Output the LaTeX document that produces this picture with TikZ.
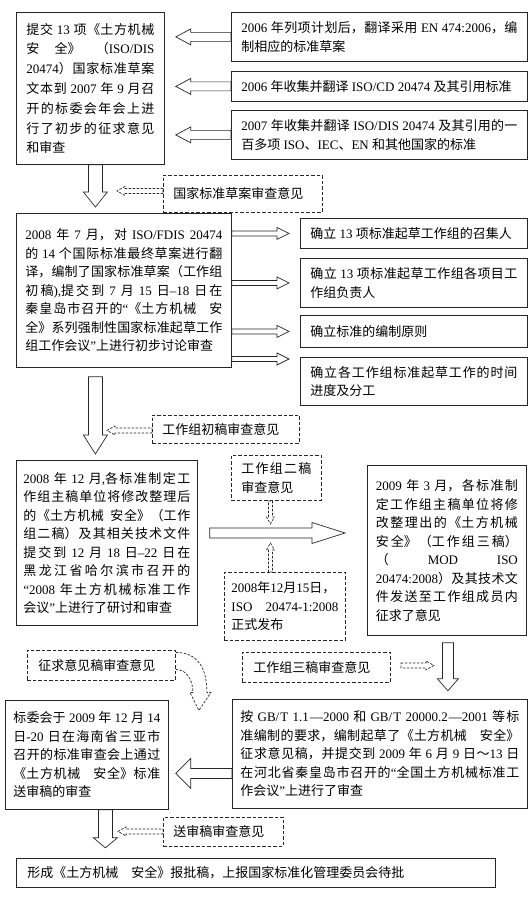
\documentclass[tikz,border=0pt]{standalone}
\usepackage{fontspec}
\setmainfont{Liberation Serif}
\newfontfamily\cjk{Noto Sans CJK SC}
\usetikzlibrary{calc}

% Chinese characters in the CJK face, Latin and digits in the serif face
\newXeTeXintercharclass\cjkcls
\newcount\cjkc
\def\setcjkrange#1#2{\cjkc=#1\relax
  \loop\XeTeXcharclass\cjkc=\cjkcls\relax
  \ifnum\cjkc<#2\relax\advance\cjkc by 1\repeat}
\setcjkrange{"3000}{"303F}
\setcjkrange{"4E00}{"9FFF}
\setcjkrange{"FF00}{"FFEF}
\XeTeXinterchartoks 0 \cjkcls = {\begingroup\cjk}
\XeTeXinterchartoks 4095 \cjkcls = {\begingroup\cjk}
\XeTeXinterchartoks \cjkcls 0 = {\endgroup}
\XeTeXinterchartoks \cjkcls 4095 = {\endgroup}
\XeTeXinterchartokenstate=1
\XeTeXlinebreaklocale "zh"
\XeTeXlinebreakskip=0pt plus 2pt minus 0.6pt
\tolerance=10000 \hbadness=10000 \hfuzz=3pt

% hollow block arrow: [style]{from}{to}{shaft half width}{head half width}{head length}
\newcommand{\blockarrow}[6][]{%
  \path ($(#3)!#6!(#2)$) coordinate (ba-neck);
  \draw[#1] ($(#2)!#4!90:(#3)$) -- ($(ba-neck)!#4!90:(#3)$) -- ($(ba-neck)!#5!90:(#3)$) -- (#3)
    -- ($(ba-neck)!#5!-90:(#3)$) -- ($(ba-neck)!#4!-90:(#3)$) -- ($(#2)!#4!-90:(#3)$) -- cycle;}

\begin{document}
\begin{tikzpicture}
[x=1pt,y=-1pt,
box/.style={draw=black!85,line width=0.8pt,anchor=north west,inner xsep=10pt,inner ysep=0pt,
  align=justify,font=\fontsize{13}{18.5}\selectfont},
note/.style={box,line width=0.9pt,dash pattern=on 3.5pt off 2pt,align=left},
fat/.style={draw=black!85,line width=0.7pt},
fatdash/.style={fat,dash pattern=on 2.5pt off 1.5pt}]
\useasboundingbox (0,0) rectangle (532,904);

% first stage
\node [box,text width=128pt,minimum height=152pt,font=\fontsize{13}{19.8}\selectfont] (B1) at (16,12)
{提交 13 项《土方机械\linebreak 安全》（\mbox{ISO/DIS}\linebreak 20474）国家标准草案\linebreak
文本到 2007 年 9 月召\linebreak 开的标委会年会上进\linebreak 行了初步的征求意见\linebreak 和审查};
\node [box,text width=276pt,minimum height=49pt] (BA) at (231,12)
{2006 年列项计划后，翻译采用 EN 474:2006，编\linebreak 制相应的标准草案};
\node [box,text width=276pt,minimum height=30pt] (BB) at (231,71)
{2006 年收集并翻译 ISO/CD 20474 及其引用标准};
\node [box,text width=276pt,minimum height=49pt] (BC) at (231,110)
{2007 年收集并翻译 ISO/DIS 20474 及其引用的一\linebreak 百多项 ISO、IEC、EN 和其他国家的标准};
\node [note,text width=139pt,minimum height=37pt] (D1) at (163,175) {国家标准草案审查意见};

% second stage
\node [box,inner xsep=9pt,text width=197pt,minimum height=154pt] (B2) at (16,213)
{2008 年 7 月，对 \mbox{ISO/FDIS} 20474\linebreak 的 14 个国际标准最终草案进行翻\linebreak
译，编制了国家标准草案（工作组\linebreak 初稿),提交到 7 月 15 日–18 日在\linebreak
秦皇岛市召开的“《土方机械\hspace{1em}安\linebreak 全》系列强制性国家标准起草工作\linebreak
组工作会议”上进行初步讨论审查};
\node [box,text width=207pt,minimum height=30pt] (BD) at (300,218) {确立 13 项标准起草工作组的召集人};
\node [box,text width=207pt,minimum height=49pt] (BE) at (300,258)
{确立 13 项标准起草工作组各项目工\linebreak 作组负责人};
\node [box,text width=207pt,minimum height=32pt] (BF) at (300,315) {确立标准的编制原则};
\node [box,text width=207pt,minimum height=48pt] (BG) at (300,357)
{确立各工作组标准起草工作的时间\linebreak 进度及分工};
\node [note,text width=127pt,minimum height=28pt] (D2) at (152,415) {工作组初稿审查意见};

% third stage
\node [box,inner xsep=7pt,text width=167pt,minimum height=165pt] (B3) at (16,460)
{2008 年 12 月,各标准制定工\linebreak 作组主稿单位将修改整理后\linebreak
的《土方机械\hspace{0.5em}安全》（工作\linebreak 组二稿）及其相关技术文件\linebreak
提交到 12 月 18 日–22 日在\linebreak 黑龙江省哈尔滨市召开的\linebreak
“2008 年土方机械标准工作\linebreak 会议”上进行了研讨和审查};
\node [note,align=justify,text width=70pt,minimum height=45pt] (D3) at (231,455)
{工作组二稿\linebreak 审查意见};
\node [note,align=justify,inner xsep=7pt,text width=107pt,minimum height=68pt] (D4) at (224,572)
{2008年12月15日，\linebreak ISO 20474-1:2008\linebreak 正式发布};
\node [box,inner xsep=8.5pt,text width=142pt,minimum height=170pt] (B4) at (367,465)
{2009 年 3 月，各标准制\linebreak 定工作组主稿单位将修\linebreak 改整理出的《土方机械\linebreak
安全》（工作组三稿）\linebreak （ MOD ISO\linebreak 20474:2008）及其技术文\linebreak
件发送至工作组成员内\linebreak 征求了意见};
\node [note,inner xsep=11pt,text width=126pt,minimum height=30pt] (D5) at (242,652) {工作组三稿审查意见};
\node [note,inner xsep=11pt,text width=126pt,minimum height=30pt] (D6) at (27,650) {征求意见稿审查意见};

% fourth stage
\node [box,inner xsep=8pt,text width=147pt,minimum height=109pt] (B5) at (5,700)
{标委会于 2009 年 12 月 14\linebreak 日-20 日在海南省三亚市\linebreak 召开的标准审查会上通过\linebreak
《土方机械\hspace{1em}安全》标准\linebreak 送审稿的审查};
\node [box,inner xsep=8pt,text width=279pt,minimum height=109pt] (B6) at (232,699)
{按 GB/T 1.1—2000 和 GB/T 20000.2—2001 等标\linebreak 准编制的要求，编制起草了《土方机械\hspace{1em}安全》\linebreak
征求意见稿，并提交到 2009 年 6 月 9 日～13 日\linebreak 在河北省秦皇岛市召开的“全国土方机械标准工\linebreak
作会议”上进行了审查};
\node [note,text width=100pt,minimum height=29pt] (D7) at (163,817) {送审稿审查意见};
\node [box,inner xsep=11pt,text width=457pt,minimum height=29pt,align=left] (B7) at (16,858)
{形成《土方机械\hspace{1em}安全》报批稿，上报国家标准化管理委员会待批};

% arrows
\coordinate (aA) at ($(B1.east |- BA.west)+(11,0)$);
\coordinate (aB) at ($(B1.east |- BB.west)+(11,0)$);
\coordinate (aC) at ($(B1.east |- BC.west)+(11,0)$);
\blockarrow[fat]{BA.west}{aA}{4.5pt}{8pt}{15pt}
\blockarrow[fat]{BB.west}{aB}{4.5pt}{8pt}{15pt}
\blockarrow[fat]{BC.west}{aC}{4.5pt}{8pt}{15pt}

\coordinate (s1) at ($(B1.south)+(5,0)$);
\coordinate (t1) at ($(s1 |- B2.north)+(0,-6)$);
\blockarrow[fat]{s1}{t1}{7pt}{12pt}{15pt}
\coordinate (n1s) at ($(D1.west)+(0,-3)$);
\coordinate (n1t) at ($(D1.west)+(-46,-3)$);
\blockarrow[fatdash]{n1s}{n1t}{2.5pt}{4.5pt}{8pt}

\coordinate (rDs) at (B2.east |- BD.west);
\coordinate (rDt) at ($(BD.west)+(-11,0)$);
\coordinate (rEs) at (B2.east |- BE.west);
\coordinate (rEt) at ($(BE.west)+(-11,0)$);
\coordinate (rFs) at (B2.east |- BF.west);
\coordinate (rFt) at ($(BF.west)+(-11,0)$);
\coordinate (rGs) at ($(B2.east |- BG.north)+(0,2)$);
\coordinate (rGt) at ($(BG.north west)+(-11,2)$);
\foreach \r in {D,E,F,G}
  {\blockarrow[fat]{r\r s}{r\r t}{2.5pt}{6pt}{12pt}}

\coordinate (s2) at ($(s1 |- B2.south)+(0,9)$);
\coordinate (t2) at ($(s1 |- B3.north)+(0,-6)$);
\blockarrow[fat]{s2}{t2}{7pt}{12pt}{19pt}
\coordinate (n2s) at ($(D2.west)+(0,1)$);
\coordinate (n2t) at ($(D2.west)+(-45,1)$);
\blockarrow[fatdash]{n2s}{n2t}{2.5pt}{4.5pt}{8pt}

\coordinate (mids) at ($(B3.north east)+(12,73)$);
\coordinate (midt) at ($(B4.north west)+(-22,68)$);
\blockarrow[fat]{mids}{midt}{5pt}{10.5pt}{33pt}
\coordinate (n3s) at ($(D3.south)+(-6,0)$);
\coordinate (n3t) at ($(D3.south)+(-6,23)$);
\blockarrow[fatdash]{n3s}{n3t}{2pt}{4pt}{7pt}
\coordinate (n4s) at ($(D4.north)+(-14.5,0)$);
\coordinate (n4t) at ($(D4.north)+(-14.5,-29)$);
\blockarrow[fatdash]{n4s}{n4t}{2pt}{4pt}{7pt}

\coordinate (s3) at ($(B4.south)+(1,7)$);
\coordinate (t3) at ($(B4.south)+(1,55)$);
\blockarrow[fat]{s3}{t3}{5.5pt}{10.5pt}{12pt}
\coordinate (n5s) at ($(D5.east)+(10,-2)$);
\coordinate (n5t) at ($(D5.east)+(43,-2)$);
\blockarrow[fatdash]{n5s}{n5t}{2.5pt}{4.5pt}{8pt}

% curved arrow out of the comment box
\begin{scope}[shift={(D6.east)}]
\draw[fatdash] (0,-13) .. controls (22,-13) and (31,3) .. (31,27) -- (35,27) -- (23,45)
  -- (14,27) -- (17,27) .. controls (17,15) and (11,4) .. (0,4);
\end{scope}

\coordinate (lefts) at ($(B6.west)+(0,19.5)$);
\coordinate (leftt) at ($(B5.east)+(7,18.5)$);
\blockarrow[fat]{lefts}{leftt}{5pt}{15pt}{15pt}

\coordinate (s4) at ($(B5.south)+(18.5,0)$);
\coordinate (t4) at ($(B5.south)+(18.5,38)$);
\blockarrow[fat]{s4}{t4}{7pt}{12pt}{10pt}
\coordinate (n7s) at ($(D7.west)+(0,-0.5)$);
\coordinate (n7t) at ($(D7.west)+(-45,-0.5)$);
\blockarrow[fatdash]{n7s}{n7t}{2.5pt}{4.5pt}{8pt}
\end{tikzpicture}
\end{document}
